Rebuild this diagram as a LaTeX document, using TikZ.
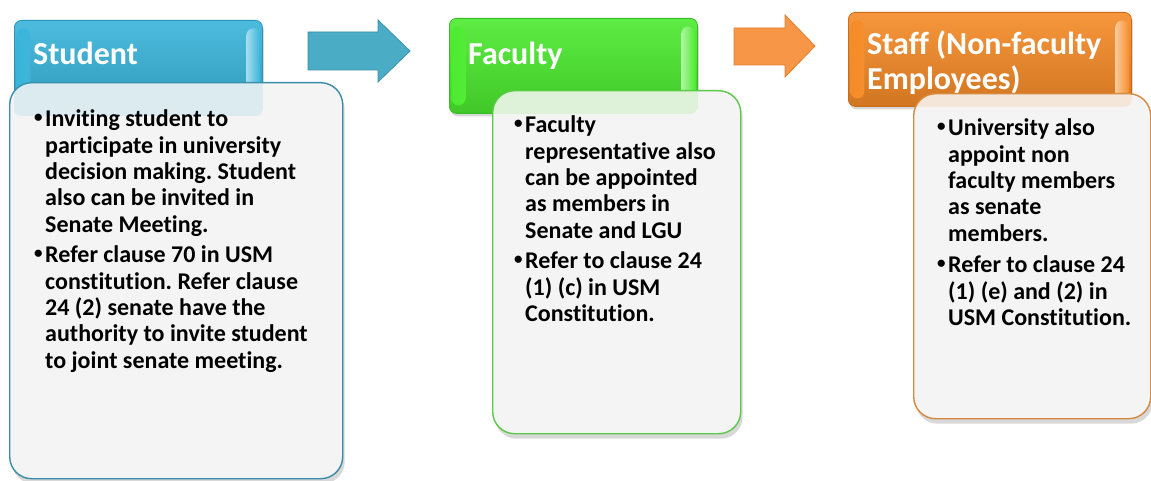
\documentclass[tikz,border=0pt]{standalone}
\usepackage{fontspec}
\setmainfont{Carlito}[Ligatures=NoCommon]
\usetikzlibrary{shadows}
\definecolor{stmain}{HTML}{38B4DA}
\definecolor{stdark}{HTML}{2A93B8}
\definecolor{stline}{HTML}{3A8CA8}
\definecolor{arone}{HTML}{4BACC6}
\definecolor{aroned}{HTML}{3A8FA8}
\definecolor{fcmain}{HTML}{4CEB2F}
\definecolor{fcdark}{HTML}{36BD22}
\definecolor{fcline}{HTML}{5CC848}
\definecolor{sfmain}{HTML}{F68B27}
\definecolor{sfdark}{HTML}{CC6C16}
\definecolor{sfline}{HTML}{D4893F}
\definecolor{artwo}{HTML}{F79646}
\definecolor{artwod}{HTML}{E07E30}
\definecolor{bodyfill}{HTML}{F4F4F4}
\newcommand\bdot{\makebox[11pt][l]{\raisebox{4pt}{\fontsize{17}{17}\selectfont •}}}
\newcommand\bl[1]{\hbox{\bdot#1}}
\newcommand\cl[1]{\hbox{\hspace*{11pt}#1}}
\newcommand\bgap{\vskip 4.5pt}
\tikzset{
  hdrbox/.style n args={2}{rounded corners=7pt, draw=#2, line width=0.8pt,
    top color=#1!90!white, bottom color=#1!85!black, inner sep=0pt,
    drop shadow={shadow xshift=1.5pt, shadow yshift=-3pt, opacity=0.3},
    path picture={
      \shade[left color=#1, right color=white!55!#1]
        ([xshift=2pt,yshift=-8pt]path picture bounding box.north west) rectangle
        ([xshift=16pt,yshift=8pt]path picture bounding box.south west);
      \shade[left color=white!55!#1, right color=#1]
        ([xshift=-16pt,yshift=-8pt]path picture bounding box.north east) rectangle
        ([xshift=-2pt,yshift=8pt]path picture bounding box.south east);
    }},
  bodybox/.style={rounded corners=22pt, draw=#1, line width=1.4pt,
    fill=bodyfill, inner sep=0pt,
    drop shadow={shadow xshift=2pt, shadow yshift=-5pt, opacity=0.3}},
  seethru/.style={rounded corners=7pt, fill=#1, opacity=0.13},
  hdrtext/.style={text=white, font=\fontsize{32}{35}\selectfont\bfseries,
    inner sep=0pt, anchor=base west},
  bodytext/.style={text=black, font=\fontsize{24}{26.3}\selectfont\bfseries,
    inner sep=0pt, anchor=base west},
  blockarrow/.style n args={2}{fill=#1, draw=#2, line width=0.8pt, line join=miter}
}
\frenchspacing
\begin{document}
\begin{tikzpicture}[x=1pt,y=-1pt]
\useasboundingbox[fill=white] (0,0) rectangle (1151,481);

% block arrows
\draw[blockarrow={arone}{aroned}] (308,32) -- (378,32) -- (378,20) -- (410,51)
  -- (378,82) -- (378,70) -- (308,70) -- cycle;
\draw[blockarrow={artwo}{artwod}] (734,28) -- (785,28) -- (785,15) -- (815,46)
  -- (785,77) -- (785,65) -- (734,65) -- cycle;

% headers
\node[hdrbox={stmain}{stdark}, minimum width=248pt, minimum height=95pt, anchor=north west] (sthdr) at (14,20) {};
\node[hdrtext] (sttxt) at (33,65) {Student};
\node[hdrbox={fcmain}{fcdark}, minimum width=248pt, minimum height=95pt, anchor=north west] (fchdr) at (449,18) {};
\node[hdrtext] (fctxt) at (468,65) {Faculty};
\node[hdrbox={sfmain}{sfdark}, minimum width=283pt, minimum height=94pt, anchor=north west] (sfhdr) at (848,12) {};
\node[hdrtext] (sftxt) at (867,55) {\vtop{\hbox{Staff (Non-faculty}\hbox{Employees)}}};

% bodies
\node[bodybox=stline, minimum width=333pt, minimum height=396pt, anchor=north west] (stbody) at (9,82) {};
\node[bodybox=fcline, minimum width=248pt, minimum height=343pt, anchor=north west] (fcbody) at (492,90) {};
\node[bodybox=sfline, minimum width=237pt, minimum height=325pt, anchor=north west] (sfbody) at (913,93) {};

% headers faintly seen through the bodies
\begin{scope}
  \clip[rounded corners=22pt] (stbody.north west) rectangle (stbody.south east);
  \fill[seethru=stmain] (sthdr.north west) rectangle (sthdr.south east);
\end{scope}
\begin{scope}
  \clip[rounded corners=22pt] (fcbody.north west) rectangle (fcbody.south east);
  \fill[seethru=fcmain] (fchdr.north west) rectangle (fchdr.south east);
\end{scope}
\begin{scope}
  \clip[rounded corners=22pt] (sfbody.north west) rectangle (sfbody.south east);
  \fill[seethru=sfmain] (sfhdr.north west) rectangle (sfhdr.south east);
\end{scope}

% body texts
\node[bodytext] (stlist) at (34,127) {\vtop{%
  \bl{Inviting student to}
  \cl{participate in university}
  \cl{decision making. Student}
  \cl{also can be invited in}
  \cl{Senate Meeting.}
  \bgap
  \bl{Refer clause 70 in USM}
  \cl{constitution. Refer clause}
  \cl{24 (2) senate have the}
  \cl{authority to invite student}
  \cl{to joint senate meeting.}}};
\node[bodytext] (fclist) at (514,133) {\vtop{%
  \bl{Faculty}
  \cl{representative also}
  \cl{can be appointed}
  \cl{as members in}
  \cl{Senate and LGU}
  \bgap
  \bl{Refer to clause 24}
  \cl{(1) (c) in USM}
  \cl{Constitution.}}};
\node[bodytext] (sflist) at (937,136) {\vtop{%
  \bl{University also}
  \cl{appoint non}
  \cl{faculty members}
  \cl{as senate}
  \cl{members.}
  \vskip 5.5pt
  \bl{Refer to clause 24}
  \cl{(1) (e) and (2) in}
  \cl{USM Constitution.}}};
\end{tikzpicture}
\end{document}
